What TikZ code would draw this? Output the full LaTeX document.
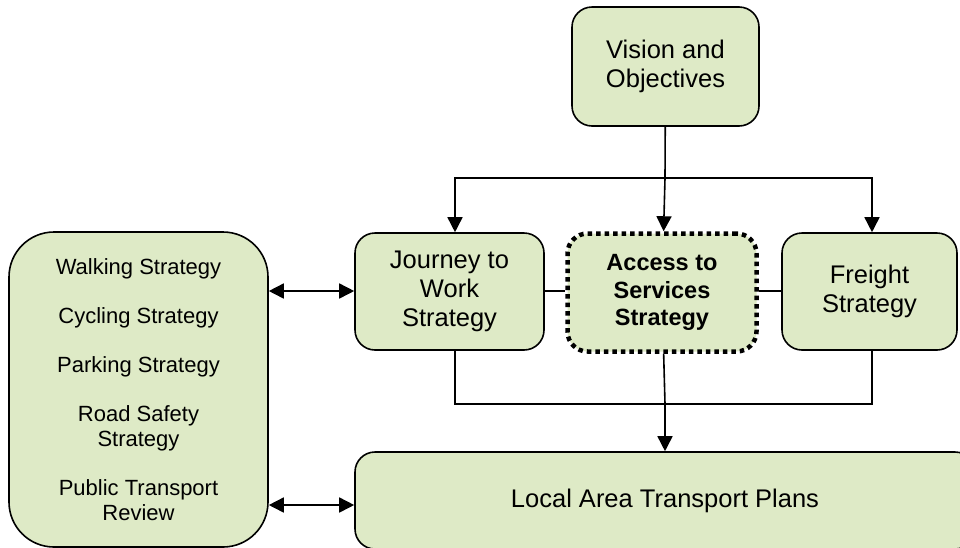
\documentclass[tikz,border=0pt]{standalone}
\usepackage{fontspec}
\setmainfont{Liberation Sans}
\usetikzlibrary{positioning,arrows.meta}
\definecolor{boxgreen}{HTML}{DEEAC6}

\begin{document}
\begin{tikzpicture}[x=1pt,y=-1pt,
		box/.style={draw, fill=boxgreen, line width=1.6pt, rounded corners=20pt, align=center, inner sep=0pt, font=\fontsize{25.5}{29}\selectfont},
		link/.style={line width=1.6pt},
		arr/.style={link, -{Triangle[length=15pt,width=15pt]}},
		dblarr/.style={link, {Triangle[length=15pt,width=15pt]}-{Triangle[length=15pt,width=15pt]}}]
			\useasboundingbox (0,0) rectangle (960,547);
			\node (vision) [box, minimum width=187pt, minimum height=119pt] at (665.5,66.5) {Vision and\\Objectives};
			\node (journey) [box, minimum width=189pt, minimum height=117pt] at (449.5,291.5) {Journey to\\Work\\Strategy};
			\node (access) [box, minimum width=189pt, minimum height=118pt, line width=4.5pt, dash pattern=on 4.5pt off 4pt, font=\fontsize{23.5}{27.5}\selectfont\bfseries] at (662,292.5) {Access to\\Services\\Strategy};
			\node (freight) [box, minimum width=175pt, minimum height=117pt] at (869.5,291.5) {Freight\\Strategy};
			\node (others) [box, rounded corners=45pt, minimum width=259pt, minimum height=315pt, font=\fontsize{22}{24.5}\selectfont] at (138.5,389.5) {Walking Strategy\\[25pt]Cycling Strategy\\[24pt]Parking Strategy\\[25pt]Road Safety\\Strategy\\[25pt]Public Transport\\Review};
			\node (local) [box, minimum width=620pt, minimum height=97pt] at (665,500.5) {Local Area Transport Plans};
			% split and merge points of the branches
			\coordinate (split) at (665,178);
			\coordinate (merge) at (665,404);
			\draw[link] (vision) -- (split);
			\draw[arr] (split) -- (access);
			\draw[arr] (split) -| (journey.north -| 455,0);
			\draw[arr] (split) -| (freight.north -| 872,0);
			\draw[link] (journey.east |- 0,291) -- (access.west |- 0,291)
			(access.east |- 0,291) -- (freight.west |- 0,291);
			\draw[link] (journey.south -| 455,0) |- (merge) -| (freight.south -| 872,0);
			\draw[link] (access) -- (merge);
			\draw[arr] (merge) -- (local.north -| merge);
			\draw[dblarr] (others.east |- 0,291) -- (journey.west |- 0,291);
			\draw[dblarr] (others.east |- 0,505) -- (local.west |- 0,505);
		\end{tikzpicture}
\end{document}
